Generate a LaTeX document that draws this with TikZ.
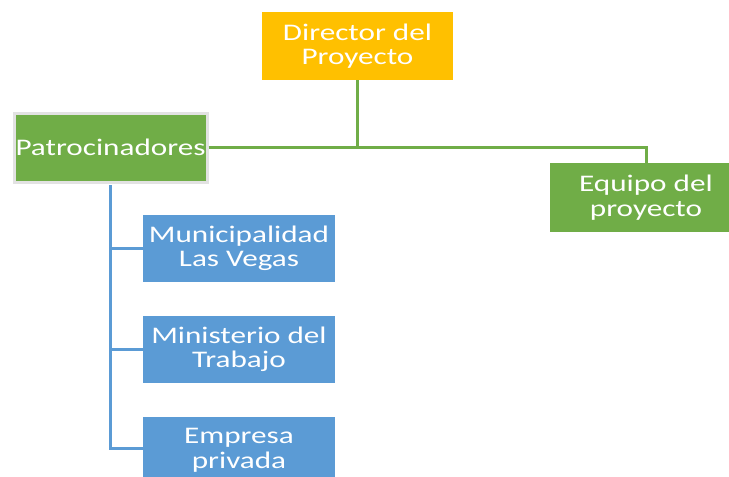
\documentclass[tikz,border=0pt]{standalone}
\usepackage{fontspec}
\setmainfont{Carlito}[FakeStretch=1.31]
\usetikzlibrary{calc}
\definecolor{cOrange}{HTML}{FFC000}
\definecolor{cGreen}{HTML}{70AD47}
\definecolor{cBlue}{HTML}{5B9BD5}
\definecolor{cBorder}{HTML}{E2E2E2}
\tikzset{
  box/.style={rectangle, inner sep=0pt, text=white, align=center,
    font=\fontsize{23.8}{24.5}\selectfont},
  orangebox/.style={box, fill=cOrange, minimum width=191pt, minimum height=68pt},
  greenbox/.style={box, fill=cGreen},
  bluebox/.style={box, fill=cBlue, minimum width=192pt, minimum height=67pt},
  gline/.style={draw=cGreen, line width=3pt},
  bline/.style={draw=cBlue, line width=3pt},
}
\begin{document}
\begin{tikzpicture}[x=1pt,y=-1pt]
\useasboundingbox (0,0) rectangle (729,477);
\clip (0,0) rectangle (729,477);
\node[orangebox] (dir) at (357.5,46) {Director del\\Proyecto};
\node[greenbox, draw=cBorder, line width=3pt, minimum width=193pt, minimum height=69pt] (pat) at (110.5,147.5) {Patrocinadores};
\node[greenbox, minimum width=192pt, minimum height=69pt] (equ) at (646,197.5) {Equipo del\\proyecto};
\node[bluebox] (b1) at (239,248.5) {Municipalidad\\Las Vegas};
\node[bluebox] (b2) at (239,349.5) {Ministerio del\\Trabajo};
\node[bluebox] (b3) at (239,450.5) {Empresa\\privada};
\coordinate (j) at (dir.south |- pat.east);
\draw[gline] (dir.south) -- (j);
\draw[gline] (pat.east) -- (j) -| (equ.north);
\coordinate (bt) at ($(pat.south)+(0,1.5)$);
\coordinate (k3) at (bt |- 0,448);
\draw[bline] (bt) -- (k3) -- (k3 -| b3.west);
\draw[bline] (bt |- b1.west) -- (b1.west);
\draw[bline] (bt |- b2.west) -- (b2.west);
\end{tikzpicture}
\end{document}
